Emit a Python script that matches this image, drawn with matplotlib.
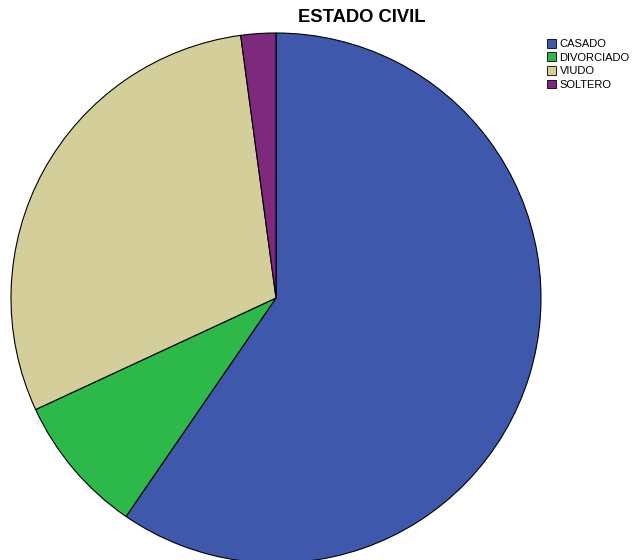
import matplotlib.pyplot as plt
from matplotlib.patches import Patch

plt.rcParams["font.family"] = ["Liberation Sans", "DejaVu Sans"]

categories = ["CASADO", "DIVORCIADO", "VIUDO", "SOLTERO"]
counts = [28, 4, 14, 1]
colors = ["#3e58ac", "#2db84a", "#d4cf9a", "#7d2a7e"]

W, H = 633, 560
fig = plt.figure(figsize=(W / 100, H / 100), dpi=100)

# pie axes sized in pixels: centre (276, 298), radius 265
cx, cy, r = 276, 298, 265
ax = fig.add_axes([(cx - r) / W, (H - cy - r) / H, 2 * r / W, 2 * r / H])
ax.pie(
    counts,
    colors=colors,
    startangle=90,
    counterclock=False,
    radius=1.0,
    wedgeprops=dict(edgecolor="black", linewidth=0.8),
)
ax.set_xlim(-1.0, 1.0)
ax.set_ylim(-1.0, 1.0)
ax.set_aspect("equal")
ax.axis("off")

fig.text(362 / W, 1 - 18 / H, "ESTADO CIVIL", ha="center", va="center",
         fontsize=13.2, fontweight="bold")

handles = [Patch(facecolor=c, edgecolor="black", linewidth=0.6) for c in colors]
fig.legend(
    handles, categories,
    loc="upper left",
    bbox_to_anchor=(539 / W, 1 - 31 / H),
    frameon=False,
    fontsize=8.0,
    handlelength=0.85,
    handleheight=0.85,
    handletextpad=0.3,
    labelspacing=0.3,
    borderpad=0.2,
)

fig.savefig("out.png", dpi=100)
